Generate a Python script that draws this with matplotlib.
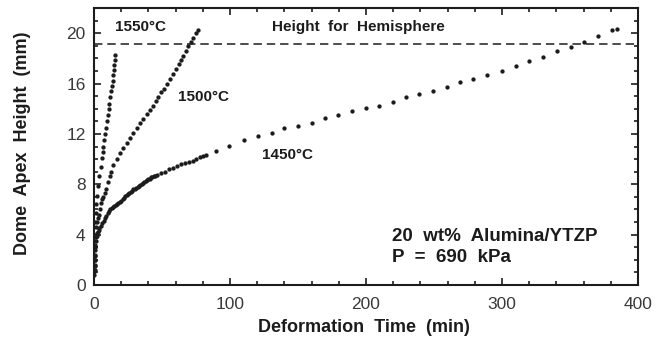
import matplotlib
matplotlib.use("Agg")
import matplotlib.pyplot as plt
from matplotlib.ticker import MultipleLocator

plt.rcParams['font.family'] = ['Liberation Sans', 'DejaVu Sans']

# ---- data ----
t1550 = [0.3, 0.5, 0.7, 0.9, 1.0, 1.3, 1.8, 2.4, 3.2, 3.9, 4.9, 5.6, 6.4, 6.9, 7.4,
         7.9, 8.6, 9.3, 10.0, 10.9, 11.4, 11.8, 12.5, 13.0, 13.7, 14.2, 14.7, 14.9,
         15.3, 15.4]
h1550 = [1.0, 2.0, 3.0, 4.0, 5.0, 5.7, 6.4, 7.1, 7.9, 8.7, 9.4, 10.1, 10.6, 11.0, 11.5,
         12.0, 12.5, 13.0, 13.5, 14.0, 14.4, 14.9, 15.4, 15.8, 16.2, 16.7, 17.1, 17.5,
         17.9, 18.3]

t1500 = [0.4, 0.6, 0.8, 1.0, 1.7, 2.3, 2.9, 3.5, 4.2, 4.9, 5.8, 6.6, 7.8, 9.1, 10.3,
         11.5, 12.5, 14.2, 16.7, 19.1, 21.6, 24.0, 26.5, 28.9, 31.4, 33.8, 36.3, 38.7,
         41.2, 43.6, 45.6, 47.3, 49.3, 51.5, 53.4, 55.9, 58.3, 60.3, 62.5, 64.0, 65.7,
         67.6, 69.4, 71.3, 73.0, 74.8, 76.2]
h1500 = [1.5, 2.3, 3.0, 3.8, 4.6, 5.0, 5.3, 5.6, 6.0, 6.5, 6.8, 7.0, 7.3, 7.6, 8.2,
         8.7, 9.0, 9.5, 10.0, 10.5, 10.9, 11.3, 11.7, 12.1, 12.5, 12.9, 13.2, 13.6,
         13.9, 14.2, 14.6, 14.9, 15.3, 15.6, 16.0, 16.4, 16.8, 17.2, 17.6, 17.9, 18.2,
         18.6, 19.0, 19.3, 19.6, 20.0, 20.3]

t1450 = [0.3, 0.5, 0.6, 0.7, 0.8, 0.9, 1.0, 1.2, 1.5, 2.0, 2.5, 3.0, 3.5, 4.0, 5.0,
         6.0, 7.0, 8.0, 9.0, 10.0, 11.0, 12.0, 13.0, 14.0, 15.0, 16.0, 17.0, 18.0,
         19.0, 20.0, 21.0, 22.0, 23.0, 24.0, 25.0, 26.0, 27.0, 28.0, 29.0, 30.0,
         31.0, 32.0, 33.0, 34.0, 35.0, 36.0, 37.0, 38.0, 39.0, 40.0, 41.0, 42.0,
         43.0, 44.0, 45.0, 46.0, 49.3, 52.2, 55.1, 57.8, 60.8, 64.0, 67.0, 69.8,
         72.6, 75.0, 77.9, 80.4, 82.3, 89.7, 99.5, 110.4, 120.5, 130.6, 139.7,
         150.2, 160.0, 169.9, 179.7, 189.5, 199.8, 209.6, 219.6, 229.4, 239.2,
         249.0, 259.3, 269.1, 278.9, 288.7, 299.7, 310.3, 320.1, 330.4, 340.2,
         350.5, 360.3, 370.8, 380.6, 384.8]
h1450 = [0.8, 1.2, 1.6, 2.0, 2.4, 2.8, 3.2, 3.5, 3.8, 3.9, 4.1, 4.2, 4.4, 4.5, 4.7,
         4.9, 5.1, 5.3, 5.5, 5.7, 5.85, 6.0, 6.1, 6.2, 6.3, 6.35, 6.45, 6.5,
         6.6, 6.7, 6.85, 6.95, 7.05, 7.15, 7.25, 7.3, 7.4, 7.5, 7.6, 7.65,
         7.7, 7.8, 7.9, 7.95, 8.05, 8.1, 8.2, 8.3, 8.35, 8.4, 8.45, 8.55,
         8.6, 8.65, 8.7, 8.75, 8.93, 9.01, 9.19, 9.33, 9.46, 9.59, 9.67, 9.80,
         9.88, 10.02, 10.15, 10.25, 10.33, 10.68, 11.05, 11.5, 11.84, 12.1, 12.45,
         12.64, 12.90, 13.30, 13.51, 13.86, 14.10, 14.23, 14.57, 14.92, 15.16,
         15.45, 15.76, 16.14, 16.37, 16.72, 16.98, 17.44, 17.78, 18.15, 18.60,
         18.94, 19.32, 19.82, 20.30, 20.38]

hemisphere_height = 19.15

x_ticks = [0, 100, 200, 300, 400]
y_ticks = [0, 4, 8, 12, 16, 20]

ink = '#1c1c1c'

fig = plt.figure(figsize=(6.68, 3.39), dpi=100)
ax = fig.add_axes([0.1407, 0.1593, 0.955 - 0.1407, 0.976 - 0.1593])

for t, h in [(t1550, h1550), (t1500, h1500), (t1450, h1450)]:
    ax.plot(t, h, linestyle='none', marker='o', markersize=3.1,
            color=ink, markeredgewidth=0)

ax.axhline(hemisphere_height, color=ink, linewidth=1.1, dashes=(5.5, 3.2))

ax.set_xlim(0, 400)
ax.set_ylim(0, 22)
ax.set_xticks(x_ticks)
ax.set_yticks(y_ticks)
ax.xaxis.set_minor_locator(MultipleLocator(20))
ax.yaxis.set_minor_locator(MultipleLocator(1))
ax.tick_params(which='both', direction='in', top=True, right=True,
               colors=ink, width=1.2)
ax.tick_params(which='major', length=5, labelsize=12.5, labelcolor='#3a3a3a')
ax.tick_params(axis='x', which='major', pad=9)
ax.tick_params(axis='y', which='major', pad=6)
ax.tick_params(which='minor', length=3)
for s in ax.spines.values():
    s.set_linewidth(1.5)
    s.set_color(ink)

lab = dict(fontweight='bold', color=ink)
ax.set_xlabel('Deformation  Time  (min)', fontsize=13, va='center', **lab)
ax.xaxis.set_label_coords(0.497, -0.152)
ax.set_ylabel('Dome  Apex  Height  (mm)', fontsize=13, va='center', **lab)
ax.yaxis.set_label_coords(-0.132, 0.513)

ax.text(15.4, 20.5, '1550°C', fontsize=11, va='center', ha='left', **lab)
ax.text(61.8, 14.9, '1500°C', fontsize=11, va='center', ha='left', **lab)
ax.text(123.3, 10.3, '1450°C', fontsize=11, va='center', ha='left', **lab)
ax.text(130.9, 20.5, 'Height  for  Hemisphere', fontsize=11, va='center',
        ha='left', **lab)
ax.text(219, 3.82, '20  wt%  Alumina/YTZP', fontsize=13.5, va='center',
        ha='left', **lab)
ax.text(219, 2.15, 'P  =  690  kPa', fontsize=13.5, va='center', ha='left', **lab)

fig.savefig('out.png', dpi=100)
